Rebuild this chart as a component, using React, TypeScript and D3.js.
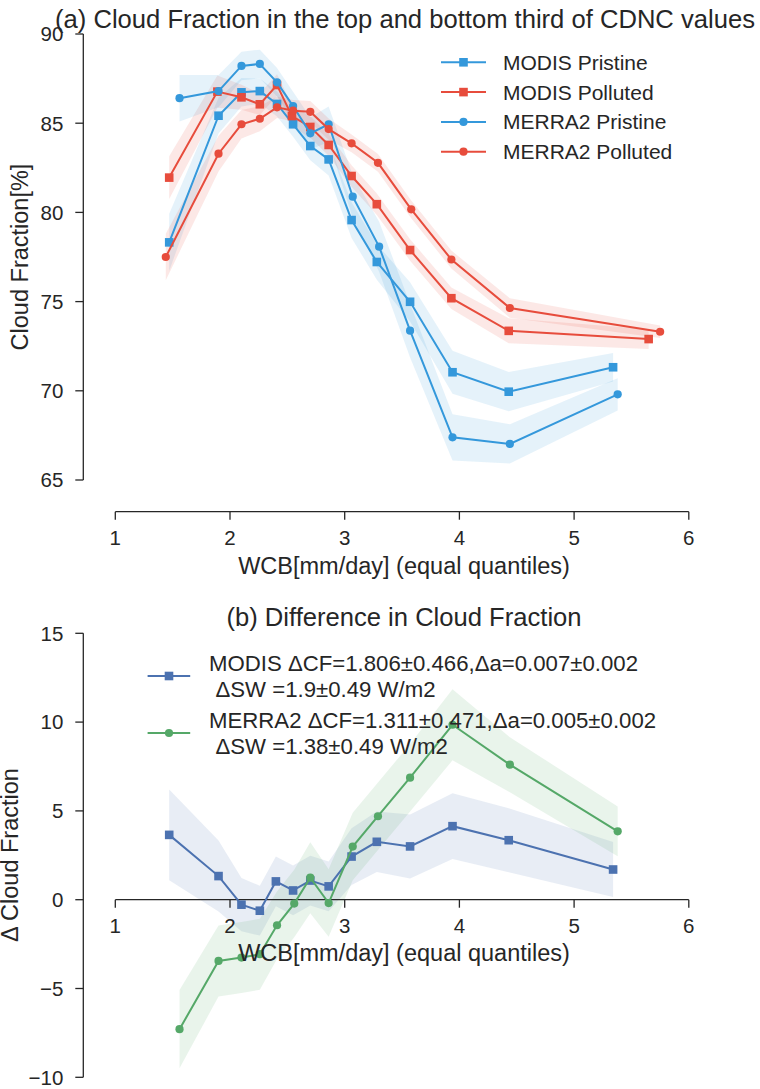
import React from "react"
import * as d3 from "d3"

// ---- data ----
// (a) cloud fraction, top and bottom third of CDNC
const modisPristineX = [1.47, 1.9, 2.1, 2.26, 2.41, 2.55, 2.7, 2.86, 3.06, 3.28, 3.57, 3.94, 4.43, 5.34]
const modisPristineY = [78.32, 85.42, 86.73, 86.8, 86.08, 84.94, 83.72, 82.97, 79.57, 77.22, 74.99, 71.04, 69.95, 71.32]
const modisPristineErr = [1.6, 1.0, 0.8, 0.7, 0.7, 0.7, 0.8, 0.9, 1.0, 1.0, 1.1, 1.2, 1.1, 0.8]

const modisPollutedX = [1.47, 1.89, 2.1, 2.26, 2.41, 2.54, 2.7, 2.86, 3.06, 3.28, 3.57, 3.93, 4.43, 5.65]
const modisPollutedY = [81.95, 86.77, 86.45, 86.06, 87.14, 85.4, 84.79, 83.78, 82.04, 80.46, 77.89, 75.19, 73.36, 72.9]
const modisPollutedErr = [1.2, 0.9, 0.7, 0.6, 0.6, 0.6, 0.6, 0.6, 0.6, 0.6, 0.6, 0.6, 0.7, 0.55]

const merraPristineX = [1.56, 1.9, 2.1, 2.26, 2.41, 2.55, 2.7, 2.86, 3.07, 3.3, 3.57, 3.94, 4.44, 5.38]
const merraPristineY = [86.4, 86.8, 88.21, 88.32, 87.29, 85.96, 84.43, 84.94, 80.88, 78.08, 73.37, 67.39, 67.02, 69.8]
const merraPristineErr = [1.3, 0.9, 0.8, 0.8, 0.8, 0.8, 0.9, 1.0, 1.2, 1.4, 1.5, 1.3, 1.1, 0.9]

const merraPollutedX = [1.44, 1.9, 2.1, 2.26, 2.41, 2.55, 2.7, 2.86, 3.06, 3.29, 3.58, 3.93, 4.44, 5.75]
const merraPollutedY = [77.5, 83.29, 84.94, 85.25, 85.89, 85.7, 85.64, 84.67, 83.87, 82.78, 80.17, 77.36, 74.64, 73.31]
const merraPollutedErr = [1.3, 1.0, 0.8, 0.7, 0.6, 0.6, 0.6, 0.6, 0.5, 0.5, 0.5, 0.5, 0.55, 0.35]

// (b) difference
const modisDiffX = [1.47, 1.9, 2.1, 2.26, 2.4, 2.55, 2.7, 2.86, 3.06, 3.28, 3.57, 3.94, 4.43, 5.34]
const modisDiffY = [3.65, 1.33, -0.28, -0.62, 1.03, 0.52, 1.08, 0.75, 2.43, 3.26, 3.0, 4.14, 3.35, 1.7]
const modisDiffErr = [2.55, 2.0, 1.5, 1.4, 1.4, 1.4, 1.4, 1.4, 1.6, 1.7, 1.8, 1.85, 1.8, 1.55]

const merraDiffX = [1.56, 1.9, 2.1, 2.26, 2.41, 2.56, 2.7, 2.86, 3.07, 3.29, 3.57, 3.94, 4.44, 5.38]
const merraDiffY = [-7.29, -3.45, -3.26, -3.07, -1.44, -0.22, 1.24, -0.19, 2.99, 4.7, 6.87, 9.85, 7.6, 3.85]
const merraDiffErr = [2.2, 2.0, 2.0, 2.0, 1.9, 1.9, 2.0, 1.9, 1.9, 1.9, 1.9, 2.0, 1.55, 1.4]

const xTicks = [1, 2, 3, 4, 5, 6]
const topYTicks = [65, 70, 75, 80, 85, 90]
const botYTicks = [-10, -5, 0, 5, 10, 15]

const topLegend = ["MODIS Pristine", "MODIS Polluted", "MERRA2 Pristine", "MERRA2 Polluted"]
const botLegend = [
    ["MODIS \u0394CF=1.806\u00b10.466,\u0394a=0.007\u00b10.002", "\u0394SW =1.9\u00b10.49 W/m2"],
    ["MERRA2 \u0394CF=1.311\u00b10.471,\u0394a=0.005\u00b10.002", "\u0394SW =1.38\u00b10.49 W/m2"],
]

const BLUE = "#3498db"
const RED = "#e74c3c"
const DBLUE = "#4c72b0"
const GREEN = "#55a868"
const INK = "#262626"
const FONT = "'Liberation Sans', Arial, sans-serif"

type Series = { xs: number[]; ys: number[]; err: number[]; color: string; marker: "s" | "o" }

const topSeries: Series[] = [
    { xs: modisPristineX, ys: modisPristineY, err: modisPristineErr, color: BLUE, marker: "s" },
    { xs: modisPollutedX, ys: modisPollutedY, err: modisPollutedErr, color: RED, marker: "s" },
    { xs: merraPristineX, ys: merraPristineY, err: merraPristineErr, color: BLUE, marker: "o" },
    { xs: merraPollutedX, ys: merraPollutedY, err: merraPollutedErr, color: RED, marker: "o" },
]
const botSeries: Series[] = [
    { xs: modisDiffX, ys: modisDiffY, err: modisDiffErr, color: DBLUE, marker: "s" },
    { xs: merraDiffX, ys: merraDiffY, err: merraDiffErr, color: GREEN, marker: "o" },
]

const x = d3.scaleLinear().domain([1, 6]).range([115.3, 688.8])
const yTop = d3.scaleLinear().domain([65, 90]).range([480, 34])
const yBot = d3.scaleLinear().domain([-10, 15]).range([1077.3, 633.3])

const fmt = (v: number) => (v < 0 ? "\u2212" + Math.abs(v) : String(v))

const Marker = ({ cx, cy, color, kind }: { cx: number; cy: number; color: string; kind: "s" | "o" }) =>
    kind === "s" ? (
        <rect x={cx - 4.3} y={cy - 4.3} width={8.6} height={8.6} fill={color} />
    ) : (
        <circle cx={cx} cy={cy} r={4.1} fill={color} />
    )

const SeriesBand = ({ s, y }: { s: Series; y: d3.ScaleLinear<number, number> }) => {
    const idx = d3.range(s.xs.length)
    const area = d3
        .area<number>()
        .x((i) => x(s.xs[i]))
        .y0((i) => y(s.ys[i] - s.err[i]))
        .y1((i) => y(s.ys[i] + s.err[i]))
    return <path d={area(idx) || ""} fill={s.color} fillOpacity={0.13} stroke="none" />
}

const SeriesLine = ({ s, y }: { s: Series; y: d3.ScaleLinear<number, number> }) => {
    const idx = d3.range(s.xs.length)
    const line = d3
        .line<number>()
        .x((i) => x(s.xs[i]))
        .y((i) => y(s.ys[i]))
    return (
        <g>
            <path d={line(idx) || ""} fill="none" stroke={s.color} strokeWidth={2} />
            {idx.map((i) => (
                <Marker key={i} cx={x(s.xs[i])} cy={y(s.ys[i])} color={s.color} kind={s.marker} />
            ))}
        </g>
    )
}

const YAxis = ({ y, ticks, x0 }: { y: d3.ScaleLinear<number, number>; ticks: number[]; x0: number }) => {
    const [a, b] = d3.extent(ticks) as [number, number]
    return (
        <g>
            <line x1={x0} x2={x0} y1={y(a)} y2={y(b)} stroke={INK} strokeWidth={1.3} />
            {ticks.map((t) => (
                <g key={t}>
                    <line x1={x0 - 8} x2={x0} y1={y(t)} y2={y(t)} stroke={INK} strokeWidth={1.3} />
                    <text x={x0 - 20} y={y(t)} dy="0.36em" textAnchor="end" fontSize={20.5} fill={INK}>
                        {fmt(t)}
                    </text>
                </g>
            ))}
        </g>
    )
}

const XAxis = ({ y0 }: { y0: number }) => (
    <g>
        <line x1={x(1)} x2={x(6)} y1={y0} y2={y0} stroke={INK} strokeWidth={1.3} />
        {xTicks.map((t) => (
            <g key={t}>
                <line x1={x(t)} x2={x(t)} y1={y0} y2={y0 + 8} stroke={INK} strokeWidth={1.3} />
                <text x={x(t)} y={y0 + 33} textAnchor="middle" fontSize={20.5} fill={INK}>
                    {t}
                </text>
            </g>
        ))}
    </g>
)

export default function App() {
    return (
        <svg
            width={760}
            height={1089}
            style={{ position: "absolute", left: 0, top: 0, background: "#fff" }}
            fontFamily={FONT}
        >
            {/* (a) */}
            <text x={405} y={28} textAnchor="middle" fontSize={25.6} fill={INK}>
                (a) Cloud Fraction in the top and bottom third of CDNC values
            </text>
            {topSeries.map((s, i) => (
                <SeriesBand key={"a" + i} s={s} y={yTop} />
            ))}
            {topSeries.map((s, i) => (
                <SeriesLine key={"l" + i} s={s} y={yTop} />
            ))}
            <YAxis y={yTop} ticks={topYTicks} x0={83.3} />
            <XAxis y0={511.7} />
            <text x={404} y={574} textAnchor="middle" fontSize={23.5} fill={INK}>
                WCB[mm/day] (equal quantiles)
            </text>
            <text transform="translate(28,257) rotate(-90)" textAnchor="middle" fontSize={23.5} fill={INK}>
                Cloud Fraction[%]
            </text>
            {topLegend.map((label, i) => {
                const ly = 62.3 + i * 29.8
                const s = topSeries[i]
                return (
                    <g key={label}>
                        <line x1={441} x2={486} y1={ly} y2={ly} stroke={s.color} strokeWidth={2} />
                        <Marker cx={463.5} cy={ly} color={s.color} kind={s.marker} />
                        <text x={503} y={ly} dy="0.36em" fontSize={21} fill={INK}>
                            {label}
                        </text>
                    </g>
                )
            })}

            {/* (b) */}
            <text x={404} y={626} textAnchor="middle" fontSize={25.6} fill={INK}>
                (b) Difference in Cloud Fraction
            </text>
            {botSeries.map((s, i) => (
                <SeriesBand key={"ba" + i} s={s} y={yBot} />
            ))}
            <YAxis y={yBot} ticks={botYTicks} x0={83.3} />
            <XAxis y0={yBot(0)} />
            {botSeries.map((s, i) => (
                <SeriesLine key={"bl" + i} s={s} y={yBot} />
            ))}
            <text x={404} y={961} textAnchor="middle" fontSize={23.5} fill={INK}>
                WCB[mm/day] (equal quantiles)
            </text>
            <text transform="translate(18,855) rotate(-90)" textAnchor="middle" fontSize={23.5} fill={INK}>
                {"\u0394 Cloud Fraction"}
            </text>
            {botLegend.map((lines, i) => {
                const ly = 676 + i * 57
                const s = botSeries[i]
                return (
                    <g key={i}>
                        <line x1={147.6} x2={190.2} y1={ly} y2={ly} stroke={s.color} strokeWidth={2} />
                        <Marker cx={169} cy={ly} color={s.color} kind={s.marker} />
                        <text x={209} y={ly - 13} dy="0.36em" fontSize={22.2} fill={INK}>
                            {lines[0]}
                        </text>
                        <text x={215.5} y={ly + 13} dy="0.36em" fontSize={22.2} fill={INK}>
                            {lines[1]}
                        </text>
                    </g>
                )
            })}
        </svg>
    )
}
